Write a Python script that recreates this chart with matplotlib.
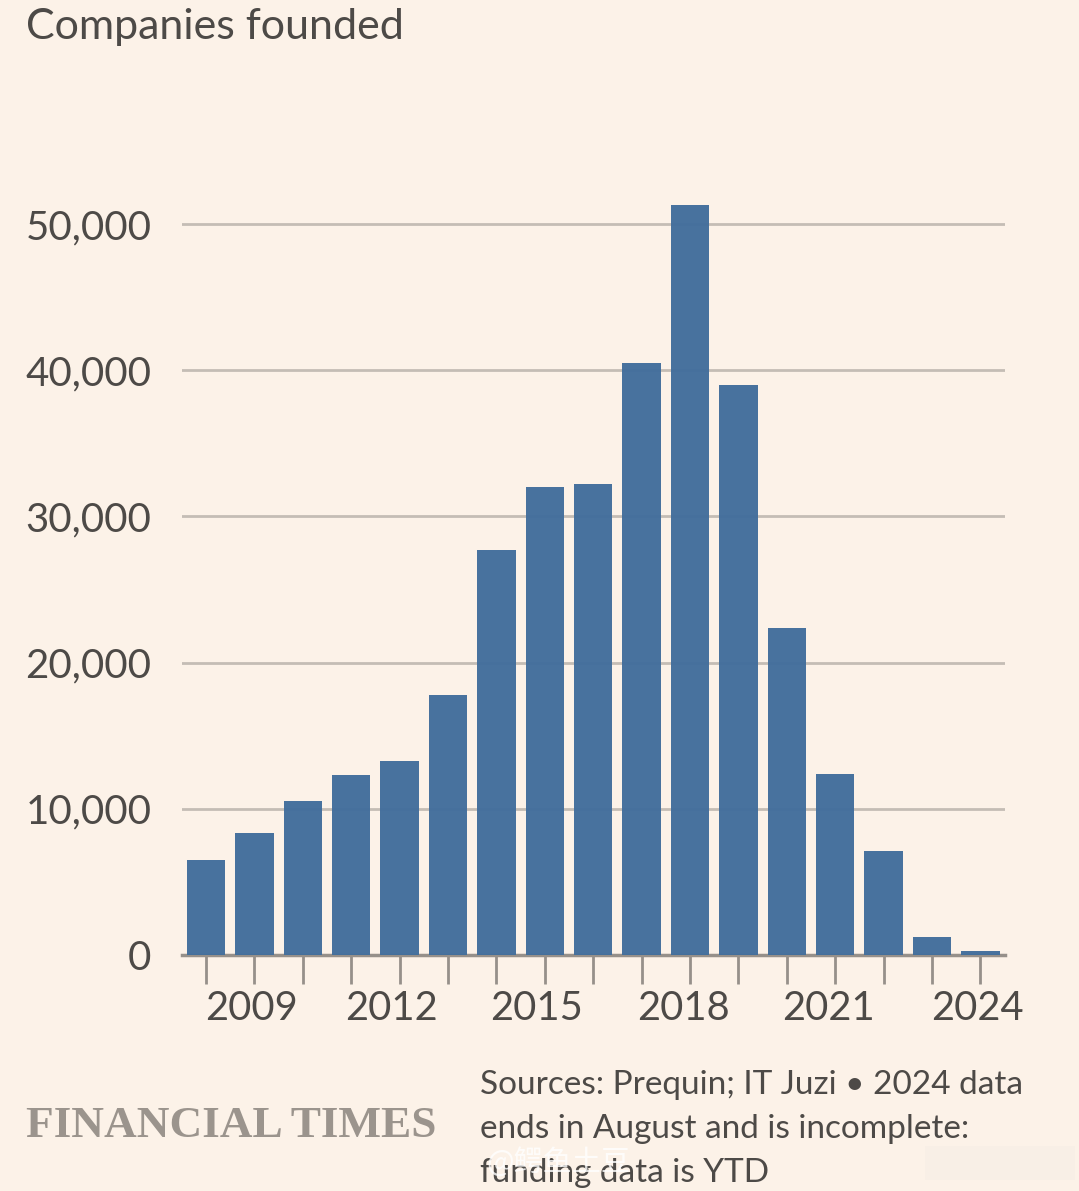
import matplotlib
matplotlib.use("Agg")
import matplotlib.pyplot as plt
from matplotlib.patches import FancyBboxPatch
from matplotlib.transforms import ScaledTranslation
import numpy as np

years = np.arange(2008, 2025)
companies = [6500, 8350, 10500, 12300, 13300, 17800, 27700, 32000, 32250, 40500,
             51300, 39000, 22350, 12350, 7100, 1200, 300]
ytick_vals = [0, 10000, 20000, 30000, 40000, 50000]
xtick_labels = [2009, 2012, 2015, 2018, 2021, 2024]
# the labels sit a little left of their ticks in the original (px)
xlabel_shift = [-3, -8, -8, -7, -7, -3]

bg = "#fcf2e8"
bar_color = "#426e9c"
grid_color = "#c4bdb5"
axis_color = "#96908a"
text_color = "#4d4a47"

W, H = 1079, 1191
plt.rcParams['font.family'] = ['Lato', 'DejaVu Sans']

fig = plt.figure(figsize=(W / 100, H / 100), dpi=100, facecolor=bg)
# plot area in pixels: x 182-1005, y 955 (zero) up to 150
left, right, top, bottom = 182, 1005, 150, 955
ax = fig.add_axes([left / W, 1 - bottom / H, (right - left) / W, (bottom - top) / H], facecolor=bg)

# 48.4 px per year, first bar centred at 206 px
px_year = 48.4
ax.set_xlim(2008 - (206 - left) / px_year, 2008 + (right - 206) / px_year)
ax.set_ylim(0, (955 - 150) / 146.2 * 10000)

# grid shows faintly through the bars
ax.bar(years, companies, width=0.79, color=bar_color, alpha=0.97, zorder=3)

ax.set_yticks(ytick_vals)
ax.set_yticklabels([f"{v:,}" for v in ytick_vals], fontsize=29, color=text_color)
ax.yaxis.grid(True, color=grid_color, lw=2, zorder=1)
ax.tick_params(axis='y', length=0, pad=22)
ax.set_axisbelow(True)

ax.set_xticks(years)
ax.set_xticklabels([str(y) if y in xtick_labels else "" for y in years], fontsize=28.7, color=text_color)
ax.tick_params(axis='x', length=21, width=2, color=axis_color, pad=4)

for lab, y in zip(ax.get_xticklabels(), years):
    if y in xtick_labels:
        dx = xlabel_shift[xtick_labels.index(y)]
        lab.set_transform(lab.get_transform() + ScaledTranslation(dx / 100, 0, fig.dpi_scale_trans))

for s in ['top', 'left', 'right']:
    ax.spines[s].set_visible(False)
ax.spines['bottom'].set_color(axis_color)
ax.spines['bottom'].set_linewidth(2.5)

fig.text(26 / W, 1 - 27 / H, "Companies founded", fontsize=31, color=text_color, va='center')
fig.text(26 / W, 1 - 1126 / H, "FINANCIAL TIMES", fontsize=32.6, color="#9b948d", va='center',
         family='Liberation Serif', fontweight='bold')
fig.text(480 / W, 1 - 1085 / H, "Sources: Prequin; IT Juzi • 2024 data", fontsize=24, color=text_color, va='center')
fig.text(480 / W, 1 - 1129 / H, "ends in August and is incomplete:", fontsize=24, color=text_color, va='center')
fig.text(480 / W, 1 - 1173 / H, "funding data is YTD", fontsize=24, color=text_color, va='center')

# weibo watermark over the footer, and the smudge to its right
fig.text(486 / W, 1 - 1163 / H, "@鳄鱼土豆", fontsize=21, color="white", alpha=0.8, va='center',
         family=['Noto Sans CJK SC', 'DejaVu Sans'])
fig.add_artist(FancyBboxPatch((925 / W, 1 - 1180 / H), 150 / W, 34 / H, boxstyle="round,pad=0",
                              transform=fig.transFigure, fc="#f8efe6", ec="none", alpha=0.9))

fig.savefig("out.png", dpi=100, facecolor=bg)
